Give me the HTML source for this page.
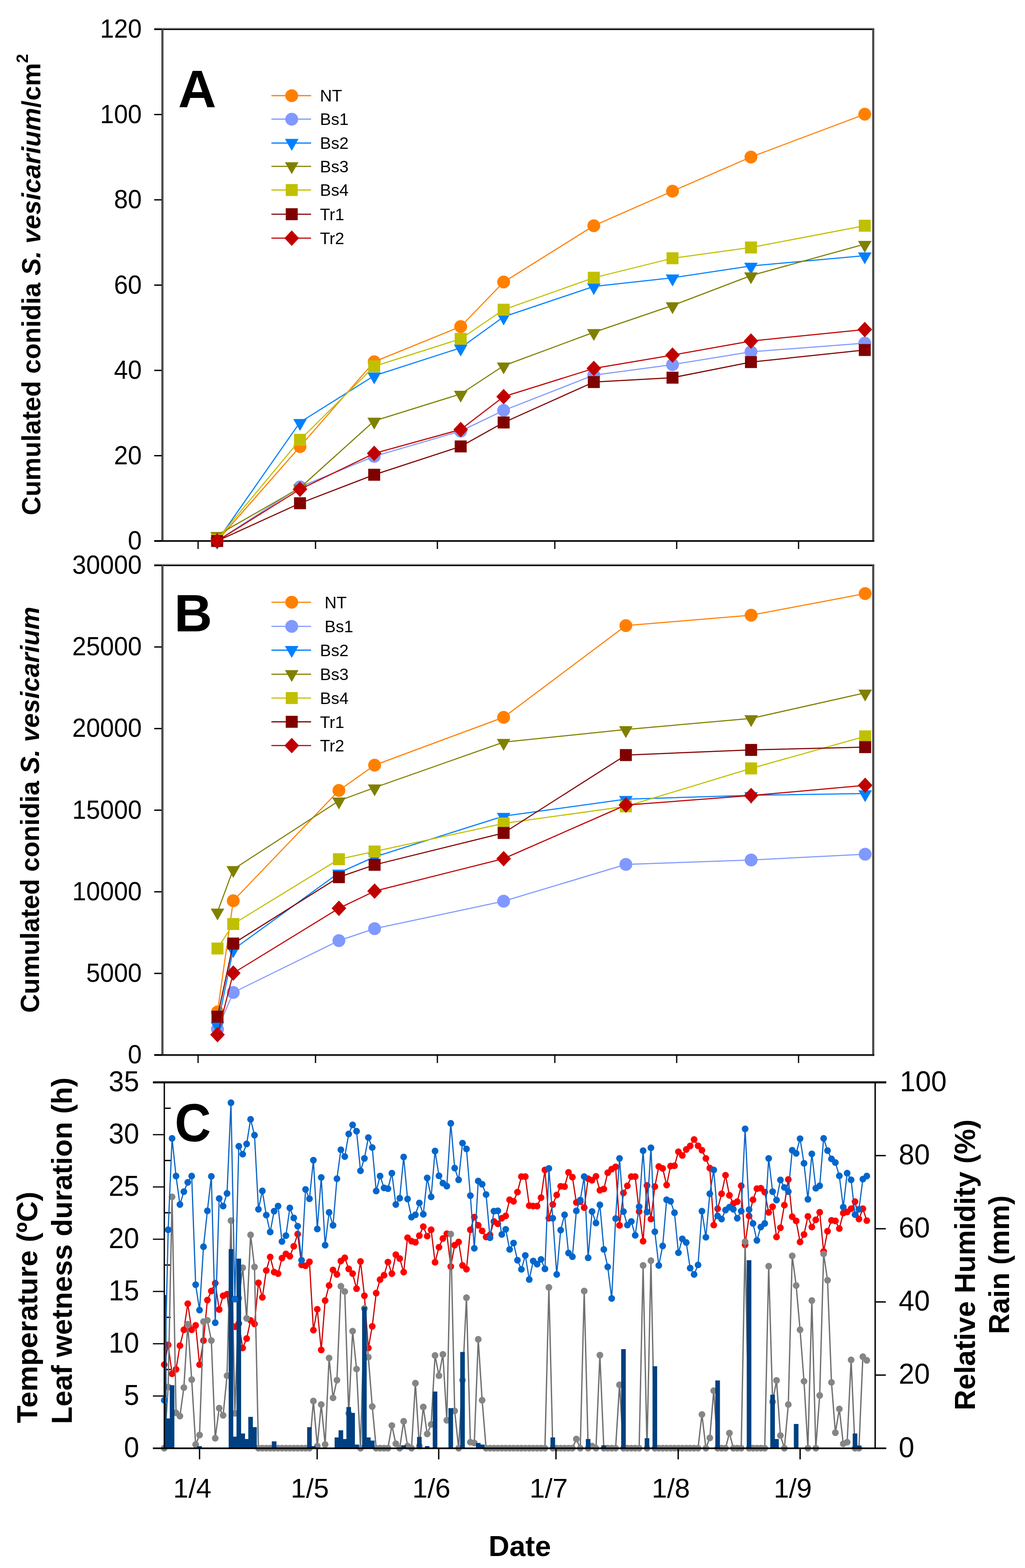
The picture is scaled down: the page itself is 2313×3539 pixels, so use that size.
<!DOCTYPE html>
<html lang="en"><head><meta charset="utf-8"><title>Figure</title>
<style>html,body{margin:0;padding:0;background:#fff}svg{display:block}</style></head>
<body>
<svg width="2313" height="3539" viewBox="0 0 2313 3539" font-family='"Liberation Sans", sans-serif' fill="#000">
<rect width="2313" height="3539" fill="#fff"/>
<g id="panelA">
<rect x="348" y="61.8" width="1625.0" height="3" fill="#d2d2d2"/>
<rect x="348" y="64.5" width="1625.0" height="3.2" fill="#000"/>
<rect x="364.0" y="66.0" width="5" height="1155.0" fill="#505050"/>
<rect x="1968.0" y="66.0" width="5" height="1157.0" fill="#505050"/>
<rect x="348" y="1219.0" width="1625.0" height="4" fill="#181818"/>
<rect x="348" y="64.5" width="17" height="3" fill="#000"/>
<text transform="translate(320,85.0) scale(0.965,1)" font-size="58.5" text-anchor="end">120</text>
<rect x="348" y="257.0" width="17" height="3" fill="#000"/>
<text transform="translate(320,277.5) scale(0.965,1)" font-size="58.5" text-anchor="end">100</text>
<rect x="348" y="449.5" width="17" height="3" fill="#000"/>
<text transform="translate(320,470.0) scale(0.965,1)" font-size="58.5" text-anchor="end">80</text>
<rect x="348" y="642.0" width="17" height="3" fill="#000"/>
<text transform="translate(320,662.5) scale(0.965,1)" font-size="58.5" text-anchor="end">60</text>
<rect x="348" y="834.5" width="17" height="3" fill="#000"/>
<text transform="translate(320,855.0) scale(0.965,1)" font-size="58.5" text-anchor="end">40</text>
<rect x="348" y="1027.0" width="17" height="3" fill="#000"/>
<text transform="translate(320,1047.5) scale(0.965,1)" font-size="58.5" text-anchor="end">20</text>
<rect x="348" y="1219.5" width="17" height="3" fill="#000"/>
<text transform="translate(320,1240.0) scale(0.965,1)" font-size="58.5" text-anchor="end">0</text>
<rect x="445.6" y="1221.0" width="2.8" height="18" fill="#000"/>
<rect x="710.6" y="1221.0" width="2.8" height="18" fill="#000"/>
<rect x="985.6" y="1221.0" width="2.8" height="18" fill="#000"/>
<rect x="1250.6" y="1221.0" width="2.8" height="18" fill="#000"/>
<rect x="1525.6" y="1221.0" width="2.8" height="18" fill="#000"/>
<rect x="1800.6" y="1221.0" width="2.8" height="18" fill="#000"/>
<polyline points="490.0,1221.0 677.0,1008.0 844.4,816.5 1039.6,737.0 1136.5,636.6 1340.0,509.4 1517.6,431.4 1694.6,354.4 1951.4,257.8" fill="none" stroke="#ff8000" stroke-width="2.5" stroke-linejoin="round"/>
<circle cx="490.0" cy="1221.0" r="14.5" fill="#ff8000"/>
<circle cx="677.0" cy="1008.0" r="14.5" fill="#ff8000"/>
<circle cx="844.4" cy="816.5" r="14.5" fill="#ff8000"/>
<circle cx="1039.6" cy="737.0" r="14.5" fill="#ff8000"/>
<circle cx="1136.5" cy="636.6" r="14.5" fill="#ff8000"/>
<circle cx="1340.0" cy="509.4" r="14.5" fill="#ff8000"/>
<circle cx="1517.6" cy="431.4" r="14.5" fill="#ff8000"/>
<circle cx="1694.6" cy="354.4" r="14.5" fill="#ff8000"/>
<circle cx="1951.4" cy="257.8" r="14.5" fill="#ff8000"/>
<polyline points="490.0,1221.0 677.0,1099.0 844.4,1030.0 1039.6,973.0 1136.5,926.3 1340.0,846.7 1517.6,822.9 1694.6,794.0 1951.4,774.4" fill="none" stroke="#8099ff" stroke-width="2.5" stroke-linejoin="round"/>
<circle cx="490.0" cy="1221.0" r="14.5" fill="#8099ff"/>
<circle cx="677.0" cy="1099.0" r="14.5" fill="#8099ff"/>
<circle cx="844.4" cy="1030.0" r="14.5" fill="#8099ff"/>
<circle cx="1039.6" cy="973.0" r="14.5" fill="#8099ff"/>
<circle cx="1136.5" cy="926.3" r="14.5" fill="#8099ff"/>
<circle cx="1340.0" cy="846.7" r="14.5" fill="#8099ff"/>
<circle cx="1517.6" cy="822.9" r="14.5" fill="#8099ff"/>
<circle cx="1694.6" cy="794.0" r="14.5" fill="#8099ff"/>
<circle cx="1951.4" cy="774.4" r="14.5" fill="#8099ff"/>
<polyline points="490.0,1221.0 677.0,953.0 844.4,848.0 1039.6,785.0 1136.5,715.0 1340.0,646.5 1517.6,626.9 1694.6,600.2 1951.4,577.1" fill="none" stroke="#0080ff" stroke-width="2.5" stroke-linejoin="round"/>
<polygon points="474.7,1213.7 505.3,1213.7 490.0,1240.5" fill="#0080ff"/>
<polygon points="661.7,945.7 692.3,945.7 677.0,972.5" fill="#0080ff"/>
<polygon points="829.1,840.7 859.7,840.7 844.4,867.5" fill="#0080ff"/>
<polygon points="1024.3,777.7 1054.9,777.7 1039.6,804.5" fill="#0080ff"/>
<polygon points="1121.2,707.7 1151.8,707.7 1136.5,734.5" fill="#0080ff"/>
<polygon points="1324.7,639.2 1355.3,639.2 1340.0,666.0" fill="#0080ff"/>
<polygon points="1502.3,619.6 1532.9,619.6 1517.6,646.4" fill="#0080ff"/>
<polygon points="1679.3,592.9 1709.9,592.9 1694.6,619.7" fill="#0080ff"/>
<polygon points="1936.1,569.8 1966.7,569.8 1951.4,596.6" fill="#0080ff"/>
<polyline points="490.0,1208.0 677.0,1101.0 844.4,950.0 1039.6,889.2 1136.5,825.5 1340.0,750.0 1517.6,689.5 1694.6,622.0 1951.4,551.0" fill="none" stroke="#808000" stroke-width="2.5" stroke-linejoin="round"/>
<polygon points="474.7,1200.7 505.3,1200.7 490.0,1227.5" fill="#808000"/>
<polygon points="661.7,1093.7 692.3,1093.7 677.0,1120.5" fill="#808000"/>
<polygon points="829.1,942.7 859.7,942.7 844.4,969.5" fill="#808000"/>
<polygon points="1024.3,881.9 1054.9,881.9 1039.6,908.7" fill="#808000"/>
<polygon points="1121.2,818.2 1151.8,818.2 1136.5,845.0" fill="#808000"/>
<polygon points="1324.7,742.7 1355.3,742.7 1340.0,769.5" fill="#808000"/>
<polygon points="1502.3,682.2 1532.9,682.2 1517.6,709.0" fill="#808000"/>
<polygon points="1679.3,614.7 1709.9,614.7 1694.6,641.5" fill="#808000"/>
<polygon points="1936.1,543.7 1966.7,543.7 1951.4,570.5" fill="#808000"/>
<polyline points="490.0,1218.0 677.0,992.7 844.4,826.8 1039.6,764.7 1136.5,699.0 1340.0,626.9 1517.6,582.9 1694.6,558.6 1951.4,509.4" fill="none" stroke="#c0c000" stroke-width="2.5" stroke-linejoin="round"/>
<rect x="476.5" y="1204.5" width="27" height="27" fill="#c0c000"/>
<rect x="663.5" y="979.2" width="27" height="27" fill="#c0c000"/>
<rect x="830.9" y="813.3" width="27" height="27" fill="#c0c000"/>
<rect x="1026.1" y="751.2" width="27" height="27" fill="#c0c000"/>
<rect x="1123.0" y="685.5" width="27" height="27" fill="#c0c000"/>
<rect x="1326.5" y="613.4" width="27" height="27" fill="#c0c000"/>
<rect x="1504.1" y="569.4" width="27" height="27" fill="#c0c000"/>
<rect x="1681.1" y="545.1" width="27" height="27" fill="#c0c000"/>
<rect x="1937.9" y="495.9" width="27" height="27" fill="#c0c000"/>
<polyline points="490.0,1221.0 677.0,1135.8 844.4,1071.5 1039.6,1007.6 1136.5,953.6 1340.0,862.3 1517.6,852.4 1694.6,817.2 1951.4,790.0" fill="none" stroke="#800000" stroke-width="2.5" stroke-linejoin="round"/>
<rect x="476.5" y="1207.5" width="27" height="27" fill="#800000"/>
<rect x="663.5" y="1122.3" width="27" height="27" fill="#800000"/>
<rect x="830.9" y="1058.0" width="27" height="27" fill="#800000"/>
<rect x="1026.1" y="994.1" width="27" height="27" fill="#800000"/>
<rect x="1123.0" y="940.1" width="27" height="27" fill="#800000"/>
<rect x="1326.5" y="848.8" width="27" height="27" fill="#800000"/>
<rect x="1504.1" y="838.9" width="27" height="27" fill="#800000"/>
<rect x="1681.1" y="803.7" width="27" height="27" fill="#800000"/>
<rect x="1937.9" y="776.5" width="27" height="27" fill="#800000"/>
<polyline points="490.0,1221.0 677.0,1104.3 844.4,1023.3 1039.6,969.4 1136.5,895.2 1340.0,831.6 1517.6,801.5 1694.6,769.7 1951.4,743.7" fill="none" stroke="#c00000" stroke-width="2.5" stroke-linejoin="round"/>
<polygon points="473.5,1221.0 490.0,1203.5 506.5,1221.0 490.0,1238.5" fill="#c00000"/>
<polygon points="660.5,1104.3 677.0,1086.8 693.5,1104.3 677.0,1121.8" fill="#c00000"/>
<polygon points="827.9,1023.3 844.4,1005.8 860.9,1023.3 844.4,1040.8" fill="#c00000"/>
<polygon points="1023.1,969.4 1039.6,951.9 1056.1,969.4 1039.6,986.9" fill="#c00000"/>
<polygon points="1120.0,895.2 1136.5,877.7 1153.0,895.2 1136.5,912.7" fill="#c00000"/>
<polygon points="1323.5,831.6 1340.0,814.1 1356.5,831.6 1340.0,849.1" fill="#c00000"/>
<polygon points="1501.1,801.5 1517.6,784.0 1534.1,801.5 1517.6,819.0" fill="#c00000"/>
<polygon points="1678.1,769.7 1694.6,752.2 1711.1,769.7 1694.6,787.2" fill="#c00000"/>
<polygon points="1934.9,743.7 1951.4,726.2 1967.9,743.7 1951.4,761.2" fill="#c00000"/>
<line x1="612.5" y1="215.9" x2="702" y2="215.9" stroke="#ff8000" stroke-width="2.6"/>
<circle cx="658.3" cy="215.9" r="14.5" fill="#ff8000"/>
<text x="722" y="229.4" font-size="37.5">NT</text>
<line x1="612.5" y1="268.9" x2="702" y2="268.9" stroke="#8099ff" stroke-width="2.6"/>
<circle cx="658.3" cy="268.9" r="14.5" fill="#8099ff"/>
<text x="722" y="282.4" font-size="37.5">Bs1</text>
<line x1="612.5" y1="322.9" x2="702" y2="322.9" stroke="#0080ff" stroke-width="2.6"/>
<polygon points="643.0,313.6 673.6,313.6 658.3,340.4" fill="#0080ff"/>
<text x="722" y="336.4" font-size="37.5">Bs2</text>
<line x1="612.5" y1="375.5" x2="702" y2="375.5" stroke="#808000" stroke-width="2.6"/>
<polygon points="643.0,366.2 673.6,366.2 658.3,393.0" fill="#808000"/>
<text x="722" y="389.0" font-size="37.5">Bs3</text>
<line x1="612.5" y1="428.9" x2="702" y2="428.9" stroke="#c0c000" stroke-width="2.6"/>
<rect x="644.8" y="415.4" width="27" height="27" fill="#c0c000"/>
<text x="722" y="442.4" font-size="37.5">Bs4</text>
<line x1="612.5" y1="483.5" x2="702" y2="483.5" stroke="#800000" stroke-width="2.6"/>
<rect x="644.8" y="470.0" width="27" height="27" fill="#800000"/>
<text x="722" y="497.0" font-size="37.5">Tr1</text>
<line x1="612.5" y1="537.5" x2="702" y2="537.5" stroke="#c00000" stroke-width="2.6"/>
<polygon points="641.8,537.5 658.3,520.0 674.8,537.5 658.3,555.0" fill="#c00000"/>
<text x="722" y="551.0" font-size="37.5">Tr2</text>
<text x="402" y="241.5" font-size="119" font-weight="bold">A</text>
<text transform="translate(91,1163) rotate(-90)" font-size="58.7" font-weight="bold">Cumulated conidia <tspan font-style="italic">S. vesicarium</tspan>/cm<tspan font-size="37" dy="-28">2</tspan></text>
</g>
<g id="panelB">
<rect x="348" y="1271.8" width="1625.0" height="3" fill="#d2d2d2"/>
<rect x="348" y="1274.5" width="1625.0" height="3.2" fill="#000"/>
<rect x="364.0" y="1276.0" width="5" height="1105.2" fill="#505050"/>
<rect x="1968.0" y="1276.0" width="5" height="1107.2" fill="#505050"/>
<rect x="348" y="2379.2" width="1625.0" height="4" fill="#181818"/>
<rect x="348" y="1274.5" width="17" height="3" fill="#000"/>
<text transform="translate(320,1295.0) scale(0.965,1)" font-size="58.5" text-anchor="end">30000</text>
<rect x="348" y="1458.7" width="17" height="3" fill="#000"/>
<text transform="translate(320,1479.2) scale(0.965,1)" font-size="58.5" text-anchor="end">25000</text>
<rect x="348" y="1642.9" width="17" height="3" fill="#000"/>
<text transform="translate(320,1663.4) scale(0.965,1)" font-size="58.5" text-anchor="end">20000</text>
<rect x="348" y="1827.1" width="17" height="3" fill="#000"/>
<text transform="translate(320,1847.6) scale(0.965,1)" font-size="58.5" text-anchor="end">15000</text>
<rect x="348" y="2011.3" width="17" height="3" fill="#000"/>
<text transform="translate(320,2031.8) scale(0.965,1)" font-size="58.5" text-anchor="end">10000</text>
<rect x="348" y="2195.5" width="17" height="3" fill="#000"/>
<text transform="translate(320,2216.0) scale(0.965,1)" font-size="58.5" text-anchor="end">5000</text>
<rect x="348" y="2379.7" width="17" height="3" fill="#000"/>
<text transform="translate(320,2400.2) scale(0.965,1)" font-size="58.5" text-anchor="end">0</text>
<rect x="445.6" y="2381.2" width="2.8" height="18" fill="#000"/>
<rect x="710.6" y="2381.2" width="2.8" height="18" fill="#000"/>
<rect x="985.6" y="2381.2" width="2.8" height="18" fill="#000"/>
<rect x="1250.6" y="2381.2" width="2.8" height="18" fill="#000"/>
<rect x="1525.6" y="2381.2" width="2.8" height="18" fill="#000"/>
<rect x="1800.6" y="2381.2" width="2.8" height="18" fill="#000"/>
<polyline points="490.8,2284.0 526.4,2033.0 764.8,1784.0 845.3,1727.0 1136.5,1619.0 1412.3,1412.0 1695.0,1388.4 1952.3,1339.8" fill="none" stroke="#ff8000" stroke-width="2.5" stroke-linejoin="round"/>
<circle cx="490.8" cy="2284.0" r="14.5" fill="#ff8000"/>
<circle cx="526.4" cy="2033.0" r="14.5" fill="#ff8000"/>
<circle cx="764.8" cy="1784.0" r="14.5" fill="#ff8000"/>
<circle cx="845.3" cy="1727.0" r="14.5" fill="#ff8000"/>
<circle cx="1136.5" cy="1619.0" r="14.5" fill="#ff8000"/>
<circle cx="1412.3" cy="1412.0" r="14.5" fill="#ff8000"/>
<circle cx="1695.0" cy="1388.4" r="14.5" fill="#ff8000"/>
<circle cx="1952.3" cy="1339.8" r="14.5" fill="#ff8000"/>
<polyline points="490.8,2323.0 526.4,2240.0 764.8,2123.0 845.3,2096.0 1136.5,2034.0 1412.3,1951.0 1695.0,1941.0 1952.3,1928.0" fill="none" stroke="#8099ff" stroke-width="2.5" stroke-linejoin="round"/>
<circle cx="490.8" cy="2323.0" r="14.5" fill="#8099ff"/>
<circle cx="526.4" cy="2240.0" r="14.5" fill="#8099ff"/>
<circle cx="764.8" cy="2123.0" r="14.5" fill="#8099ff"/>
<circle cx="845.3" cy="2096.0" r="14.5" fill="#8099ff"/>
<circle cx="1136.5" cy="2034.0" r="14.5" fill="#8099ff"/>
<circle cx="1412.3" cy="1951.0" r="14.5" fill="#8099ff"/>
<circle cx="1695.0" cy="1941.0" r="14.5" fill="#8099ff"/>
<circle cx="1952.3" cy="1928.0" r="14.5" fill="#8099ff"/>
<polyline points="490.8,2314.0 526.4,2143.0 764.8,1970.0 845.3,1934.0 1136.5,1842.0 1412.3,1803.7 1695.0,1795.0 1952.3,1791.0" fill="none" stroke="#0080ff" stroke-width="2.5" stroke-linejoin="round"/>
<polygon points="475.5,2306.7 506.1,2306.7 490.8,2333.5" fill="#0080ff"/>
<polygon points="511.1,2135.7 541.7,2135.7 526.4,2162.5" fill="#0080ff"/>
<polygon points="749.5,1962.7 780.1,1962.7 764.8,1989.5" fill="#0080ff"/>
<polygon points="830.0,1926.7 860.6,1926.7 845.3,1953.5" fill="#0080ff"/>
<polygon points="1121.2,1834.7 1151.8,1834.7 1136.5,1861.5" fill="#0080ff"/>
<polygon points="1397.0,1796.4 1427.6,1796.4 1412.3,1823.2" fill="#0080ff"/>
<polygon points="1679.7,1787.7 1710.3,1787.7 1695.0,1814.5" fill="#0080ff"/>
<polygon points="1937.0,1783.7 1967.6,1783.7 1952.3,1810.5" fill="#0080ff"/>
<polyline points="490.8,2058.0 526.4,1962.0 764.8,1807.4 845.3,1777.7 1136.5,1675.0 1412.3,1646.4 1695.0,1621.5 1952.3,1563.7" fill="none" stroke="#808000" stroke-width="2.5" stroke-linejoin="round"/>
<polygon points="475.5,2050.7 506.1,2050.7 490.8,2077.5" fill="#808000"/>
<polygon points="511.1,1954.7 541.7,1954.7 526.4,1981.5" fill="#808000"/>
<polygon points="749.5,1800.1 780.1,1800.1 764.8,1826.9" fill="#808000"/>
<polygon points="830.0,1770.4 860.6,1770.4 845.3,1797.2" fill="#808000"/>
<polygon points="1121.2,1667.7 1151.8,1667.7 1136.5,1694.5" fill="#808000"/>
<polygon points="1397.0,1639.1 1427.6,1639.1 1412.3,1665.9" fill="#808000"/>
<polygon points="1679.7,1614.2 1710.3,1614.2 1695.0,1641.0" fill="#808000"/>
<polygon points="1937.0,1556.4 1967.6,1556.4 1952.3,1583.2" fill="#808000"/>
<polyline points="490.8,2140.8 526.4,2085.5 764.8,1939.3 845.3,1921.8 1136.5,1858.5 1412.3,1820.0 1695.0,1734.3 1952.3,1662.0" fill="none" stroke="#c0c000" stroke-width="2.5" stroke-linejoin="round"/>
<rect x="477.3" y="2127.3" width="27" height="27" fill="#c0c000"/>
<rect x="512.9" y="2072.0" width="27" height="27" fill="#c0c000"/>
<rect x="751.3" y="1925.8" width="27" height="27" fill="#c0c000"/>
<rect x="831.8" y="1908.3" width="27" height="27" fill="#c0c000"/>
<rect x="1123.0" y="1845.0" width="27" height="27" fill="#c0c000"/>
<rect x="1398.8" y="1806.5" width="27" height="27" fill="#c0c000"/>
<rect x="1681.5" y="1720.8" width="27" height="27" fill="#c0c000"/>
<rect x="1938.8" y="1648.5" width="27" height="27" fill="#c0c000"/>
<polyline points="490.8,2294.7 526.4,2129.6 764.8,1979.8 845.3,1951.9 1136.5,1880.0 1412.3,1704.2 1695.0,1692.6 1952.3,1686.3" fill="none" stroke="#800000" stroke-width="2.5" stroke-linejoin="round"/>
<rect x="477.3" y="2281.2" width="27" height="27" fill="#800000"/>
<rect x="512.9" y="2116.1" width="27" height="27" fill="#800000"/>
<rect x="751.3" y="1966.3" width="27" height="27" fill="#800000"/>
<rect x="831.8" y="1938.4" width="27" height="27" fill="#800000"/>
<rect x="1123.0" y="1866.5" width="27" height="27" fill="#800000"/>
<rect x="1398.8" y="1690.7" width="27" height="27" fill="#800000"/>
<rect x="1681.5" y="1679.1" width="27" height="27" fill="#800000"/>
<rect x="1938.8" y="1672.8" width="27" height="27" fill="#800000"/>
<polyline points="490.8,2335.2 526.4,2196.2 764.8,2050.0 845.3,2011.3 1136.5,1938.0 1412.3,1817.0 1695.0,1795.6 1952.3,1772.5" fill="none" stroke="#c00000" stroke-width="2.5" stroke-linejoin="round"/>
<polygon points="474.3,2335.2 490.8,2317.7 507.3,2335.2 490.8,2352.7" fill="#c00000"/>
<polygon points="509.9,2196.2 526.4,2178.7 542.9,2196.2 526.4,2213.7" fill="#c00000"/>
<polygon points="748.3,2050.0 764.8,2032.5 781.3,2050.0 764.8,2067.5" fill="#c00000"/>
<polygon points="828.8,2011.3 845.3,1993.8 861.8,2011.3 845.3,2028.8" fill="#c00000"/>
<polygon points="1120.0,1938.0 1136.5,1920.5 1153.0,1938.0 1136.5,1955.5" fill="#c00000"/>
<polygon points="1395.8,1817.0 1412.3,1799.5 1428.8,1817.0 1412.3,1834.5" fill="#c00000"/>
<polygon points="1678.5,1795.6 1695.0,1778.1 1711.5,1795.6 1695.0,1813.1" fill="#c00000"/>
<polygon points="1935.8,1772.5 1952.3,1755.0 1968.8,1772.5 1952.3,1790.0" fill="#c00000"/>
<line x1="612.5" y1="1359.3" x2="702" y2="1359.3" stroke="#ff8000" stroke-width="2.6"/>
<circle cx="658.3" cy="1359.3" r="14.5" fill="#ff8000"/>
<text x="732.5" y="1372.8" font-size="37.5">NT</text>
<line x1="612.5" y1="1413.7" x2="702" y2="1413.7" stroke="#8099ff" stroke-width="2.6"/>
<circle cx="658.3" cy="1413.7" r="14.5" fill="#8099ff"/>
<text x="732.5" y="1427.2" font-size="37.5">Bs1</text>
<line x1="612.5" y1="1467.4" x2="702" y2="1467.4" stroke="#0080ff" stroke-width="2.6"/>
<polygon points="643.0,1458.1 673.6,1458.1 658.3,1484.9" fill="#0080ff"/>
<text x="722" y="1480.9" font-size="37.5">Bs2</text>
<line x1="612.5" y1="1521.8" x2="702" y2="1521.8" stroke="#808000" stroke-width="2.6"/>
<polygon points="643.0,1512.5 673.6,1512.5 658.3,1539.3" fill="#808000"/>
<text x="722" y="1535.3" font-size="37.5">Bs3</text>
<line x1="612.5" y1="1575.5" x2="702" y2="1575.5" stroke="#c0c000" stroke-width="2.6"/>
<rect x="644.8" y="1562.0" width="27" height="27" fill="#c0c000"/>
<text x="722" y="1589.0" font-size="37.5">Bs4</text>
<line x1="612.5" y1="1629.1" x2="702" y2="1629.1" stroke="#800000" stroke-width="2.6"/>
<rect x="644.8" y="1615.6" width="27" height="27" fill="#800000"/>
<text x="722" y="1642.6" font-size="37.5">Tr1</text>
<line x1="612.5" y1="1682.8" x2="702" y2="1682.8" stroke="#c00000" stroke-width="2.6"/>
<polygon points="641.8,1682.8 658.3,1665.3 674.8,1682.8 658.3,1700.3" fill="#c00000"/>
<text x="722" y="1696.3" font-size="37.5">Tr2</text>
<text x="393" y="1425" font-size="119" font-weight="bold">B</text>
<text transform="translate(88,2286) rotate(-90)" font-size="58.5" font-weight="bold">Cumulated conidia <tspan font-style="italic">S. vesicarium</tspan></text>
</g>
<g id="panelC">
<clipPath id="clipC"><rect x="370.8" y="2443.0" width="1604.1000000000001" height="837.8000000000002"/></clipPath>
<rect x="370.8" y="2499.8" width="14.5" height="3.0" fill="#000"/>
<rect x="370.8" y="2617.8" width="14.5" height="3.0" fill="#000"/>
<rect x="370.8" y="2735.7" width="14.5" height="3.0" fill="#000"/>
<rect x="370.8" y="2853.7" width="14.5" height="3.0" fill="#000"/>
<rect x="370.8" y="2971.7" width="14.5" height="3.0" fill="#000"/>
<rect x="370.8" y="3089.6" width="14.5" height="3.0" fill="#000"/>
<rect x="370.8" y="3207.6" width="14.5" height="3.0" fill="#000"/>
<polyline points="370.6,3080.0 379.5,3035.4 388.3,3100.7 397.2,3090.7 406.0,3037.1 414.9,3001.4 423.7,2942.5 432.6,3001.4 441.5,2991.4 450.3,3080.0 459.2,3025.7 468.0,2934.3 476.9,2913.9 485.7,2896.1 494.6,2955.7 503.5,2924.6 512.3,2921.1 521.2,2996.1 530.0,2994.3 538.9,2987.1 547.7,3042.5 556.6,3021.1 565.5,2980.0 574.3,2988.2 583.2,2895.4 592.0,2928.2 600.9,2867.5 609.7,2837.1 618.6,2871.1 627.5,2874.6 636.3,2839.6 645.2,2830.0 654.0,2835.4 662.9,2812.9 671.7,2785.4 680.6,2855.0 689.5,2856.8 698.3,2847.9 707.2,3002.1 716.0,2955.0 724.9,3046.8 733.7,2935.4 742.6,2901.4 751.5,2866.4 760.3,2876.4 769.2,2846.1 778.0,2838.9 786.9,2863.9 795.7,2874.6 804.6,2908.6 813.5,2847.1 822.3,2924.6 831.2,3042.5 840.0,2993.6 848.9,2918.6 857.7,2888.2 866.6,2878.2 875.4,2848.6 884.3,2874.6 893.2,2831.8 902.0,2840.7 910.9,2871.1 919.7,2793.6 928.6,2801.4 937.4,2803.9 946.3,2788.9 955.2,2768.6 964.0,2790.0 972.9,2775.7 981.7,2848.9 990.6,2815.0 999.4,2795.4 1008.3,2784.6 1017.2,2858.6 1026.0,2810.4 1034.9,2803.2 1043.7,2856.1 1052.6,2864.6 1061.4,2775.7 1070.3,2747.1 1079.2,2765.7 1088.0,2778.2 1096.9,2791.8 1105.7,2787.1 1114.6,2756.8 1123.4,2762.1 1132.3,2749.6 1141.2,2744.3 1150.0,2707.9 1158.9,2711.4 1167.7,2690.7 1176.6,2655.7 1185.4,2655.7 1194.3,2721.1 1203.2,2722.1 1212.0,2722.1 1220.9,2703.2 1229.7,2640.7 1238.6,2749.6 1247.4,2718.6 1256.3,2697.1 1265.2,2677.5 1274.0,2678.2 1282.9,2646.1 1291.7,2656.8 1300.6,2713.9 1309.4,2712.1 1318.3,2725.7 1327.2,2660.4 1336.0,2663.9 1344.9,2655.0 1353.7,2686.4 1362.6,2683.6 1371.4,2646.8 1380.3,2638.9 1389.2,2633.6 1398.0,2765.7 1406.9,2692.5 1415.7,2676.4 1424.6,2655.7 1433.4,2655.7 1442.3,2734.3 1451.2,2801.4 1460.0,2675.7 1468.9,2751.4 1477.7,2678.2 1486.6,2632.9 1495.4,2637.1 1504.3,2674.6 1513.2,2631.8 1522.0,2631.1 1530.9,2599.6 1539.7,2607.9 1548.6,2594.3 1557.4,2586.4 1566.3,2571.8 1575.2,2586.1 1584.0,2596.1 1592.9,2614.6 1601.7,2636.4 1610.6,2765.0 1619.4,2728.2 1628.3,2694.3 1637.2,2652.5 1646.0,2697.9 1654.9,2716.4 1663.7,2712.1 1672.6,2676.4 1681.4,2809.6 1690.3,2744.3 1699.2,2707.9 1708.0,2682.9 1716.9,2681.8 1725.7,2690.7 1734.6,2736.4 1743.4,2723.6 1752.3,2791.8 1761.1,2771.1 1770.0,2720.0 1778.9,2662.1 1787.7,2746.1 1796.6,2755.7 1805.4,2803.2 1814.3,2786.4 1823.1,2745.4 1832.0,2769.3 1840.9,2753.2 1849.7,2736.1 1858.6,2824.6 1867.4,2778.9 1876.3,2754.3 1885.1,2755.7 1894.0,2772.9 1902.9,2737.9 1911.7,2735.4 1920.6,2728.2 1929.4,2712.1 1938.3,2751.4 1947.1,2728.2 1956.0,2755.0" fill="none" stroke="#cc0000" stroke-width="2.7" stroke-linejoin="round"/>
<g fill="#ff0000"><circle cx="370.6" cy="3080.0" r="7.6"/><circle cx="379.5" cy="3035.4" r="7.6"/><circle cx="388.3" cy="3100.7" r="7.6"/><circle cx="397.2" cy="3090.7" r="7.6"/><circle cx="406.0" cy="3037.1" r="7.6"/><circle cx="414.9" cy="3001.4" r="7.6"/><circle cx="423.7" cy="2942.5" r="7.6"/><circle cx="432.6" cy="3001.4" r="7.6"/><circle cx="441.5" cy="2991.4" r="7.6"/><circle cx="450.3" cy="3080.0" r="7.6"/><circle cx="459.2" cy="3025.7" r="7.6"/><circle cx="468.0" cy="2934.3" r="7.6"/><circle cx="476.9" cy="2913.9" r="7.6"/><circle cx="485.7" cy="2896.1" r="7.6"/><circle cx="494.6" cy="2955.7" r="7.6"/><circle cx="503.5" cy="2924.6" r="7.6"/><circle cx="512.3" cy="2921.1" r="7.6"/><circle cx="521.2" cy="2996.1" r="7.6"/><circle cx="530.0" cy="2994.3" r="7.6"/><circle cx="538.9" cy="2987.1" r="7.6"/><circle cx="547.7" cy="3042.5" r="7.6"/><circle cx="556.6" cy="3021.1" r="7.6"/><circle cx="565.5" cy="2980.0" r="7.6"/><circle cx="574.3" cy="2988.2" r="7.6"/><circle cx="583.2" cy="2895.4" r="7.6"/><circle cx="592.0" cy="2928.2" r="7.6"/><circle cx="600.9" cy="2867.5" r="7.6"/><circle cx="609.7" cy="2837.1" r="7.6"/><circle cx="618.6" cy="2871.1" r="7.6"/><circle cx="627.5" cy="2874.6" r="7.6"/><circle cx="636.3" cy="2839.6" r="7.6"/><circle cx="645.2" cy="2830.0" r="7.6"/><circle cx="654.0" cy="2835.4" r="7.6"/><circle cx="662.9" cy="2812.9" r="7.6"/><circle cx="671.7" cy="2785.4" r="7.6"/><circle cx="680.6" cy="2855.0" r="7.6"/><circle cx="689.5" cy="2856.8" r="7.6"/><circle cx="698.3" cy="2847.9" r="7.6"/><circle cx="707.2" cy="3002.1" r="7.6"/><circle cx="716.0" cy="2955.0" r="7.6"/><circle cx="724.9" cy="3046.8" r="7.6"/><circle cx="733.7" cy="2935.4" r="7.6"/><circle cx="742.6" cy="2901.4" r="7.6"/><circle cx="751.5" cy="2866.4" r="7.6"/><circle cx="760.3" cy="2876.4" r="7.6"/><circle cx="769.2" cy="2846.1" r="7.6"/><circle cx="778.0" cy="2838.9" r="7.6"/><circle cx="786.9" cy="2863.9" r="7.6"/><circle cx="795.7" cy="2874.6" r="7.6"/><circle cx="804.6" cy="2908.6" r="7.6"/><circle cx="813.5" cy="2847.1" r="7.6"/><circle cx="822.3" cy="2924.6" r="7.6"/><circle cx="831.2" cy="3042.5" r="7.6"/><circle cx="840.0" cy="2993.6" r="7.6"/><circle cx="848.9" cy="2918.6" r="7.6"/><circle cx="857.7" cy="2888.2" r="7.6"/><circle cx="866.6" cy="2878.2" r="7.6"/><circle cx="875.4" cy="2848.6" r="7.6"/><circle cx="884.3" cy="2874.6" r="7.6"/><circle cx="893.2" cy="2831.8" r="7.6"/><circle cx="902.0" cy="2840.7" r="7.6"/><circle cx="910.9" cy="2871.1" r="7.6"/><circle cx="919.7" cy="2793.6" r="7.6"/><circle cx="928.6" cy="2801.4" r="7.6"/><circle cx="937.4" cy="2803.9" r="7.6"/><circle cx="946.3" cy="2788.9" r="7.6"/><circle cx="955.2" cy="2768.6" r="7.6"/><circle cx="964.0" cy="2790.0" r="7.6"/><circle cx="972.9" cy="2775.7" r="7.6"/><circle cx="981.7" cy="2848.9" r="7.6"/><circle cx="990.6" cy="2815.0" r="7.6"/><circle cx="999.4" cy="2795.4" r="7.6"/><circle cx="1008.3" cy="2784.6" r="7.6"/><circle cx="1017.2" cy="2858.6" r="7.6"/><circle cx="1026.0" cy="2810.4" r="7.6"/><circle cx="1034.9" cy="2803.2" r="7.6"/><circle cx="1043.7" cy="2856.1" r="7.6"/><circle cx="1052.6" cy="2864.6" r="7.6"/><circle cx="1061.4" cy="2775.7" r="7.6"/><circle cx="1070.3" cy="2747.1" r="7.6"/><circle cx="1079.2" cy="2765.7" r="7.6"/><circle cx="1088.0" cy="2778.2" r="7.6"/><circle cx="1096.9" cy="2791.8" r="7.6"/><circle cx="1105.7" cy="2787.1" r="7.6"/><circle cx="1114.6" cy="2756.8" r="7.6"/><circle cx="1123.4" cy="2762.1" r="7.6"/><circle cx="1132.3" cy="2749.6" r="7.6"/><circle cx="1141.2" cy="2744.3" r="7.6"/><circle cx="1150.0" cy="2707.9" r="7.6"/><circle cx="1158.9" cy="2711.4" r="7.6"/><circle cx="1167.7" cy="2690.7" r="7.6"/><circle cx="1176.6" cy="2655.7" r="7.6"/><circle cx="1185.4" cy="2655.7" r="7.6"/><circle cx="1194.3" cy="2721.1" r="7.6"/><circle cx="1203.2" cy="2722.1" r="7.6"/><circle cx="1212.0" cy="2722.1" r="7.6"/><circle cx="1220.9" cy="2703.2" r="7.6"/><circle cx="1229.7" cy="2640.7" r="7.6"/><circle cx="1238.6" cy="2749.6" r="7.6"/><circle cx="1247.4" cy="2718.6" r="7.6"/><circle cx="1256.3" cy="2697.1" r="7.6"/><circle cx="1265.2" cy="2677.5" r="7.6"/><circle cx="1274.0" cy="2678.2" r="7.6"/><circle cx="1282.9" cy="2646.1" r="7.6"/><circle cx="1291.7" cy="2656.8" r="7.6"/><circle cx="1300.6" cy="2713.9" r="7.6"/><circle cx="1309.4" cy="2712.1" r="7.6"/><circle cx="1318.3" cy="2725.7" r="7.6"/><circle cx="1327.2" cy="2660.4" r="7.6"/><circle cx="1336.0" cy="2663.9" r="7.6"/><circle cx="1344.9" cy="2655.0" r="7.6"/><circle cx="1353.7" cy="2686.4" r="7.6"/><circle cx="1362.6" cy="2683.6" r="7.6"/><circle cx="1371.4" cy="2646.8" r="7.6"/><circle cx="1380.3" cy="2638.9" r="7.6"/><circle cx="1389.2" cy="2633.6" r="7.6"/><circle cx="1398.0" cy="2765.7" r="7.6"/><circle cx="1406.9" cy="2692.5" r="7.6"/><circle cx="1415.7" cy="2676.4" r="7.6"/><circle cx="1424.6" cy="2655.7" r="7.6"/><circle cx="1433.4" cy="2655.7" r="7.6"/><circle cx="1442.3" cy="2734.3" r="7.6"/><circle cx="1451.2" cy="2801.4" r="7.6"/><circle cx="1460.0" cy="2675.7" r="7.6"/><circle cx="1468.9" cy="2751.4" r="7.6"/><circle cx="1477.7" cy="2678.2" r="7.6"/><circle cx="1486.6" cy="2632.9" r="7.6"/><circle cx="1495.4" cy="2637.1" r="7.6"/><circle cx="1504.3" cy="2674.6" r="7.6"/><circle cx="1513.2" cy="2631.8" r="7.6"/><circle cx="1522.0" cy="2631.1" r="7.6"/><circle cx="1530.9" cy="2599.6" r="7.6"/><circle cx="1539.7" cy="2607.9" r="7.6"/><circle cx="1548.6" cy="2594.3" r="7.6"/><circle cx="1557.4" cy="2586.4" r="7.6"/><circle cx="1566.3" cy="2571.8" r="7.6"/><circle cx="1575.2" cy="2586.1" r="7.6"/><circle cx="1584.0" cy="2596.1" r="7.6"/><circle cx="1592.9" cy="2614.6" r="7.6"/><circle cx="1601.7" cy="2636.4" r="7.6"/><circle cx="1610.6" cy="2765.0" r="7.6"/><circle cx="1619.4" cy="2728.2" r="7.6"/><circle cx="1628.3" cy="2694.3" r="7.6"/><circle cx="1637.2" cy="2652.5" r="7.6"/><circle cx="1646.0" cy="2697.9" r="7.6"/><circle cx="1654.9" cy="2716.4" r="7.6"/><circle cx="1663.7" cy="2712.1" r="7.6"/><circle cx="1672.6" cy="2676.4" r="7.6"/><circle cx="1681.4" cy="2809.6" r="7.6"/><circle cx="1690.3" cy="2744.3" r="7.6"/><circle cx="1699.2" cy="2707.9" r="7.6"/><circle cx="1708.0" cy="2682.9" r="7.6"/><circle cx="1716.9" cy="2681.8" r="7.6"/><circle cx="1725.7" cy="2690.7" r="7.6"/><circle cx="1734.6" cy="2736.4" r="7.6"/><circle cx="1743.4" cy="2723.6" r="7.6"/><circle cx="1752.3" cy="2791.8" r="7.6"/><circle cx="1761.1" cy="2771.1" r="7.6"/><circle cx="1770.0" cy="2720.0" r="7.6"/><circle cx="1778.9" cy="2662.1" r="7.6"/><circle cx="1787.7" cy="2746.1" r="7.6"/><circle cx="1796.6" cy="2755.7" r="7.6"/><circle cx="1805.4" cy="2803.2" r="7.6"/><circle cx="1814.3" cy="2786.4" r="7.6"/><circle cx="1823.1" cy="2745.4" r="7.6"/><circle cx="1832.0" cy="2769.3" r="7.6"/><circle cx="1840.9" cy="2753.2" r="7.6"/><circle cx="1849.7" cy="2736.1" r="7.6"/><circle cx="1858.6" cy="2824.6" r="7.6"/><circle cx="1867.4" cy="2778.9" r="7.6"/><circle cx="1876.3" cy="2754.3" r="7.6"/><circle cx="1885.1" cy="2755.7" r="7.6"/><circle cx="1894.0" cy="2772.9" r="7.6"/><circle cx="1902.9" cy="2737.9" r="7.6"/><circle cx="1911.7" cy="2735.4" r="7.6"/><circle cx="1920.6" cy="2728.2" r="7.6"/><circle cx="1929.4" cy="2712.1" r="7.6"/><circle cx="1938.3" cy="2751.4" r="7.6"/><circle cx="1947.1" cy="2728.2" r="7.6"/><circle cx="1956.0" cy="2755.0" r="7.6"/></g>
<polyline points="370.6,3268.6 379.5,3130.7 388.3,2701.4 397.2,3188.9 406.0,3196.1 414.9,3131.8 423.7,2988.9 432.6,3113.9 441.5,3260.4 450.3,3238.9 459.2,2982.9 468.0,2980.0 476.9,3025.7 485.7,3246.1 494.6,3178.2 503.5,3194.3 512.3,3105.0 521.2,2755.0 530.0,3190.0 538.9,2930.0 547.7,2861.4 556.6,2975.7 565.5,2787.1 574.3,2859.6 583.2,3268.6 592.0,3268.6 600.9,3268.6 609.7,3268.6 618.6,3268.6 627.5,3268.6 636.3,3268.6 645.2,3268.6 654.0,3268.6 662.9,3268.6 671.7,3268.6 680.6,3268.6 689.5,3268.6 698.3,3268.6 707.2,3162.1 716.0,3263.9 724.9,3170.0 733.7,3260.4 742.6,3065.0 751.5,3155.0 760.3,3115.0 769.2,2903.2 778.0,2915.0 786.9,3190.0 795.7,3004.3 804.6,3090.0 813.5,3268.6 822.3,2953.2 831.2,3063.2 840.0,3174.6 848.9,3268.6 857.7,3268.6 866.6,3268.6 875.4,3268.6 884.3,3217.5 893.2,3258.6 902.0,3268.6 910.9,3207.9 919.7,3263.9 928.6,3268.6 937.4,3121.8 946.3,3263.9 955.2,3175.7 964.0,3236.4 972.9,3215.0 981.7,3059.3 990.6,3105.0 999.4,3056.8 1008.3,3205.7 1017.2,2785.4 1026.0,3184.3 1034.9,3268.6 1043.7,3115.0 1052.6,2928.9 1061.4,3255.0 1070.3,3256.8 1079.2,3022.9 1088.0,3160.4 1096.9,3268.6 1105.7,3268.6 1114.6,3268.6 1123.4,3268.6 1132.3,3268.6 1141.2,3268.6 1150.0,3268.6 1158.9,3268.6 1167.7,3268.6 1176.6,3268.6 1185.4,3268.6 1194.3,3268.6 1203.2,3268.6 1212.0,3268.6 1220.9,3268.6 1229.7,3268.6 1238.6,2905.7 1247.4,3268.6 1256.3,3268.6 1265.2,3268.6 1274.0,3268.6 1282.9,3268.6 1291.7,3268.6 1300.6,3247.9 1309.4,3268.6 1318.3,2913.9 1327.2,3268.6 1336.0,3263.9 1344.9,3268.6 1353.7,3058.6 1362.6,3268.6 1371.4,3268.6 1380.3,3268.6 1389.2,3268.6 1398.0,3125.7 1406.9,3268.6 1415.7,3268.6 1424.6,3268.6 1433.4,3268.6 1442.3,3268.6 1451.2,2856.1 1460.0,3268.6 1468.9,2845.4 1477.7,3268.6 1486.6,3268.6 1495.4,3268.6 1504.3,3268.6 1513.2,3268.6 1522.0,3268.6 1530.9,3268.6 1539.7,3268.6 1548.6,3268.6 1557.4,3268.6 1566.3,3268.6 1575.2,3268.6 1584.0,3192.5 1592.9,3268.6 1601.7,3245.4 1610.6,3138.9 1619.4,3268.6 1628.3,3268.6 1637.2,3268.6 1646.0,3234.6 1654.9,3268.6 1663.7,3268.6 1672.6,3268.6 1681.4,2802.5 1690.3,3268.6 1699.2,3268.6 1708.0,3268.6 1716.9,3268.6 1725.7,3268.6 1734.6,2857.9 1743.4,3163.9 1752.3,3115.7 1761.1,3240.0 1770.0,3268.6 1778.9,3170.0 1787.7,2834.6 1796.6,2901.4 1805.4,3001.4 1814.3,3117.5 1823.1,3268.6 1832.0,2935.4 1840.9,3268.6 1849.7,3149.6 1858.6,2830.0 1867.4,2889.6 1876.3,3120.0 1885.1,3233.6 1894.0,3180.0 1902.9,3258.6 1911.7,3255.0 1920.6,3069.3 1929.4,3268.6 1938.3,3268.6 1947.1,3062.1 1956.0,3070.4" fill="none" stroke="#707070" stroke-width="3.0" stroke-linejoin="round"/>
<g fill="#858585"><circle cx="370.6" cy="3268.6" r="7.6"/><circle cx="379.5" cy="3130.7" r="7.6"/><circle cx="388.3" cy="2701.4" r="7.6"/><circle cx="397.2" cy="3188.9" r="7.6"/><circle cx="406.0" cy="3196.1" r="7.6"/><circle cx="414.9" cy="3131.8" r="7.6"/><circle cx="423.7" cy="2988.9" r="7.6"/><circle cx="432.6" cy="3113.9" r="7.6"/><circle cx="441.5" cy="3260.4" r="7.6"/><circle cx="450.3" cy="3238.9" r="7.6"/><circle cx="459.2" cy="2982.9" r="7.6"/><circle cx="468.0" cy="2980.0" r="7.6"/><circle cx="476.9" cy="3025.7" r="7.6"/><circle cx="485.7" cy="3246.1" r="7.6"/><circle cx="494.6" cy="3178.2" r="7.6"/><circle cx="503.5" cy="3194.3" r="7.6"/><circle cx="512.3" cy="3105.0" r="7.6"/><circle cx="521.2" cy="2755.0" r="7.6"/><circle cx="530.0" cy="3190.0" r="7.6"/><circle cx="538.9" cy="2930.0" r="7.6"/><circle cx="547.7" cy="2861.4" r="7.6"/><circle cx="556.6" cy="2975.7" r="7.6"/><circle cx="565.5" cy="2787.1" r="7.6"/><circle cx="574.3" cy="2859.6" r="7.6"/><circle cx="583.2" cy="3268.6" r="7.6"/><circle cx="592.0" cy="3268.6" r="7.6"/><circle cx="600.9" cy="3268.6" r="7.6"/><circle cx="609.7" cy="3268.6" r="7.6"/><circle cx="618.6" cy="3268.6" r="7.6"/><circle cx="627.5" cy="3268.6" r="7.6"/><circle cx="636.3" cy="3268.6" r="7.6"/><circle cx="645.2" cy="3268.6" r="7.6"/><circle cx="654.0" cy="3268.6" r="7.6"/><circle cx="662.9" cy="3268.6" r="7.6"/><circle cx="671.7" cy="3268.6" r="7.6"/><circle cx="680.6" cy="3268.6" r="7.6"/><circle cx="689.5" cy="3268.6" r="7.6"/><circle cx="698.3" cy="3268.6" r="7.6"/><circle cx="707.2" cy="3162.1" r="7.6"/><circle cx="716.0" cy="3263.9" r="7.6"/><circle cx="724.9" cy="3170.0" r="7.6"/><circle cx="733.7" cy="3260.4" r="7.6"/><circle cx="742.6" cy="3065.0" r="7.6"/><circle cx="751.5" cy="3155.0" r="7.6"/><circle cx="760.3" cy="3115.0" r="7.6"/><circle cx="769.2" cy="2903.2" r="7.6"/><circle cx="778.0" cy="2915.0" r="7.6"/><circle cx="786.9" cy="3190.0" r="7.6"/><circle cx="795.7" cy="3004.3" r="7.6"/><circle cx="804.6" cy="3090.0" r="7.6"/><circle cx="813.5" cy="3268.6" r="7.6"/><circle cx="822.3" cy="2953.2" r="7.6"/><circle cx="831.2" cy="3063.2" r="7.6"/><circle cx="840.0" cy="3174.6" r="7.6"/><circle cx="848.9" cy="3268.6" r="7.6"/><circle cx="857.7" cy="3268.6" r="7.6"/><circle cx="866.6" cy="3268.6" r="7.6"/><circle cx="875.4" cy="3268.6" r="7.6"/><circle cx="884.3" cy="3217.5" r="7.6"/><circle cx="893.2" cy="3258.6" r="7.6"/><circle cx="902.0" cy="3268.6" r="7.6"/><circle cx="910.9" cy="3207.9" r="7.6"/><circle cx="919.7" cy="3263.9" r="7.6"/><circle cx="928.6" cy="3268.6" r="7.6"/><circle cx="937.4" cy="3121.8" r="7.6"/><circle cx="946.3" cy="3263.9" r="7.6"/><circle cx="955.2" cy="3175.7" r="7.6"/><circle cx="964.0" cy="3236.4" r="7.6"/><circle cx="972.9" cy="3215.0" r="7.6"/><circle cx="981.7" cy="3059.3" r="7.6"/><circle cx="990.6" cy="3105.0" r="7.6"/><circle cx="999.4" cy="3056.8" r="7.6"/><circle cx="1008.3" cy="3205.7" r="7.6"/><circle cx="1017.2" cy="2785.4" r="7.6"/><circle cx="1026.0" cy="3184.3" r="7.6"/><circle cx="1034.9" cy="3268.6" r="7.6"/><circle cx="1043.7" cy="3115.0" r="7.6"/><circle cx="1052.6" cy="2928.9" r="7.6"/><circle cx="1061.4" cy="3255.0" r="7.6"/><circle cx="1070.3" cy="3256.8" r="7.6"/><circle cx="1079.2" cy="3022.9" r="7.6"/><circle cx="1088.0" cy="3160.4" r="7.6"/><circle cx="1096.9" cy="3268.6" r="7.6"/><circle cx="1105.7" cy="3268.6" r="7.6"/><circle cx="1114.6" cy="3268.6" r="7.6"/><circle cx="1123.4" cy="3268.6" r="7.6"/><circle cx="1132.3" cy="3268.6" r="7.6"/><circle cx="1141.2" cy="3268.6" r="7.6"/><circle cx="1150.0" cy="3268.6" r="7.6"/><circle cx="1158.9" cy="3268.6" r="7.6"/><circle cx="1167.7" cy="3268.6" r="7.6"/><circle cx="1176.6" cy="3268.6" r="7.6"/><circle cx="1185.4" cy="3268.6" r="7.6"/><circle cx="1194.3" cy="3268.6" r="7.6"/><circle cx="1203.2" cy="3268.6" r="7.6"/><circle cx="1212.0" cy="3268.6" r="7.6"/><circle cx="1220.9" cy="3268.6" r="7.6"/><circle cx="1229.7" cy="3268.6" r="7.6"/><circle cx="1238.6" cy="2905.7" r="7.6"/><circle cx="1247.4" cy="3268.6" r="7.6"/><circle cx="1256.3" cy="3268.6" r="7.6"/><circle cx="1265.2" cy="3268.6" r="7.6"/><circle cx="1274.0" cy="3268.6" r="7.6"/><circle cx="1282.9" cy="3268.6" r="7.6"/><circle cx="1291.7" cy="3268.6" r="7.6"/><circle cx="1300.6" cy="3247.9" r="7.6"/><circle cx="1309.4" cy="3268.6" r="7.6"/><circle cx="1318.3" cy="2913.9" r="7.6"/><circle cx="1327.2" cy="3268.6" r="7.6"/><circle cx="1336.0" cy="3263.9" r="7.6"/><circle cx="1344.9" cy="3268.6" r="7.6"/><circle cx="1353.7" cy="3058.6" r="7.6"/><circle cx="1362.6" cy="3268.6" r="7.6"/><circle cx="1371.4" cy="3268.6" r="7.6"/><circle cx="1380.3" cy="3268.6" r="7.6"/><circle cx="1389.2" cy="3268.6" r="7.6"/><circle cx="1398.0" cy="3125.7" r="7.6"/><circle cx="1406.9" cy="3268.6" r="7.6"/><circle cx="1415.7" cy="3268.6" r="7.6"/><circle cx="1424.6" cy="3268.6" r="7.6"/><circle cx="1433.4" cy="3268.6" r="7.6"/><circle cx="1442.3" cy="3268.6" r="7.6"/><circle cx="1451.2" cy="2856.1" r="7.6"/><circle cx="1460.0" cy="3268.6" r="7.6"/><circle cx="1468.9" cy="2845.4" r="7.6"/><circle cx="1477.7" cy="3268.6" r="7.6"/><circle cx="1486.6" cy="3268.6" r="7.6"/><circle cx="1495.4" cy="3268.6" r="7.6"/><circle cx="1504.3" cy="3268.6" r="7.6"/><circle cx="1513.2" cy="3268.6" r="7.6"/><circle cx="1522.0" cy="3268.6" r="7.6"/><circle cx="1530.9" cy="3268.6" r="7.6"/><circle cx="1539.7" cy="3268.6" r="7.6"/><circle cx="1548.6" cy="3268.6" r="7.6"/><circle cx="1557.4" cy="3268.6" r="7.6"/><circle cx="1566.3" cy="3268.6" r="7.6"/><circle cx="1575.2" cy="3268.6" r="7.6"/><circle cx="1584.0" cy="3192.5" r="7.6"/><circle cx="1592.9" cy="3268.6" r="7.6"/><circle cx="1601.7" cy="3245.4" r="7.6"/><circle cx="1610.6" cy="3138.9" r="7.6"/><circle cx="1619.4" cy="3268.6" r="7.6"/><circle cx="1628.3" cy="3268.6" r="7.6"/><circle cx="1637.2" cy="3268.6" r="7.6"/><circle cx="1646.0" cy="3234.6" r="7.6"/><circle cx="1654.9" cy="3268.6" r="7.6"/><circle cx="1663.7" cy="3268.6" r="7.6"/><circle cx="1672.6" cy="3268.6" r="7.6"/><circle cx="1681.4" cy="2802.5" r="7.6"/><circle cx="1690.3" cy="3268.6" r="7.6"/><circle cx="1699.2" cy="3268.6" r="7.6"/><circle cx="1708.0" cy="3268.6" r="7.6"/><circle cx="1716.9" cy="3268.6" r="7.6"/><circle cx="1725.7" cy="3268.6" r="7.6"/><circle cx="1734.6" cy="2857.9" r="7.6"/><circle cx="1743.4" cy="3163.9" r="7.6"/><circle cx="1752.3" cy="3115.7" r="7.6"/><circle cx="1761.1" cy="3240.0" r="7.6"/><circle cx="1770.0" cy="3268.6" r="7.6"/><circle cx="1778.9" cy="3170.0" r="7.6"/><circle cx="1787.7" cy="2834.6" r="7.6"/><circle cx="1796.6" cy="2901.4" r="7.6"/><circle cx="1805.4" cy="3001.4" r="7.6"/><circle cx="1814.3" cy="3117.5" r="7.6"/><circle cx="1823.1" cy="3268.6" r="7.6"/><circle cx="1832.0" cy="2935.4" r="7.6"/><circle cx="1840.9" cy="3268.6" r="7.6"/><circle cx="1849.7" cy="3149.6" r="7.6"/><circle cx="1858.6" cy="2830.0" r="7.6"/><circle cx="1867.4" cy="2889.6" r="7.6"/><circle cx="1876.3" cy="3120.0" r="7.6"/><circle cx="1885.1" cy="3233.6" r="7.6"/><circle cx="1894.0" cy="3180.0" r="7.6"/><circle cx="1902.9" cy="3258.6" r="7.6"/><circle cx="1911.7" cy="3255.0" r="7.6"/><circle cx="1920.6" cy="3069.3" r="7.6"/><circle cx="1929.4" cy="3268.6" r="7.6"/><circle cx="1938.3" cy="3268.6" r="7.6"/><circle cx="1947.1" cy="3062.1" r="7.6"/><circle cx="1956.0" cy="3070.4" r="7.6"/></g>
<g fill="#004080" clip-path="url(#clipC)">
<rect x="365.4" y="2922.9" width="10.40" height="345.9"/>
<rect x="374.3" y="3201.4" width="10.40" height="67.4"/>
<rect x="383.1" y="3126.4" width="10.40" height="142.4"/>
<rect x="445.1" y="3263.9" width="10.40" height="4.9"/>
<rect x="516.0" y="2819.3" width="10.40" height="449.5"/>
<rect x="524.8" y="3242.5" width="10.40" height="26.3"/>
<rect x="533.7" y="2840.7" width="10.40" height="428.1"/>
<rect x="542.5" y="3235.4" width="10.40" height="33.4"/>
<rect x="551.4" y="3247.9" width="10.40" height="20.9"/>
<rect x="560.3" y="3197.9" width="10.40" height="70.9"/>
<rect x="569.1" y="3221.1" width="10.40" height="47.7"/>
<rect x="613.4" y="3253.2" width="10.40" height="15.6"/>
<rect x="693.1" y="3221.1" width="10.40" height="47.7"/>
<rect x="702.0" y="3263.9" width="10.40" height="4.9"/>
<rect x="755.1" y="3244.3" width="10.40" height="24.5"/>
<rect x="764.0" y="3228.2" width="10.40" height="40.6"/>
<rect x="772.8" y="3247.9" width="10.40" height="20.9"/>
<rect x="781.7" y="3175.7" width="10.40" height="93.1"/>
<rect x="790.5" y="3188.9" width="10.40" height="79.9"/>
<rect x="799.4" y="3260.4" width="10.40" height="8.4"/>
<rect x="817.1" y="2949.6" width="10.40" height="319.2"/>
<rect x="826.0" y="3244.3" width="10.40" height="24.5"/>
<rect x="834.8" y="3251.4" width="10.40" height="17.4"/>
<rect x="905.7" y="3262.1" width="10.40" height="6.7"/>
<rect x="941.1" y="3243.2" width="10.40" height="25.6"/>
<rect x="958.8" y="3263.9" width="10.40" height="4.9"/>
<rect x="976.5" y="3140.7" width="10.40" height="128.1"/>
<rect x="1012.0" y="3178.2" width="10.40" height="90.6"/>
<rect x="1038.5" y="3051.4" width="10.40" height="217.4"/>
<rect x="1074.0" y="3256.8" width="10.40" height="12.0"/>
<rect x="1082.8" y="3260.4" width="10.40" height="8.4"/>
<rect x="1242.2" y="3244.3" width="10.40" height="24.5"/>
<rect x="1322.0" y="3247.9" width="10.40" height="20.9"/>
<rect x="1357.4" y="3262.1" width="10.40" height="6.7"/>
<rect x="1401.7" y="3045.0" width="10.40" height="223.8"/>
<rect x="1454.8" y="3246.1" width="10.40" height="22.7"/>
<rect x="1472.5" y="3083.6" width="10.40" height="185.2"/>
<rect x="1614.2" y="3115.7" width="10.40" height="153.1"/>
<rect x="1685.1" y="2844.3" width="10.40" height="424.5"/>
<rect x="1738.2" y="3147.9" width="10.40" height="120.9"/>
<rect x="1747.1" y="3247.9" width="10.40" height="20.9"/>
<rect x="1791.4" y="3213.9" width="10.40" height="54.9"/>
<rect x="1924.2" y="3235.4" width="10.40" height="33.4"/>
<rect x="1933.1" y="3262.9" width="10.40" height="5.9"/>
</g>
<polyline points="370.6,3160.4 379.5,2775.7 388.3,2569.3 397.2,2654.3 406.0,2718.6 414.9,2689.6 423.7,2668.6 432.6,2654.3 441.5,2899.6 450.3,2956.8 459.2,2813.9 468.0,2732.9 476.9,2655.0 485.7,2985.4 494.6,2705.0 503.5,2722.1 512.3,2693.6 521.2,2488.9 530.0,2932.1 538.9,2587.1 547.7,2605.0 556.6,2581.8 565.5,2526.4 574.3,2562.1 583.2,2729.3 592.0,2687.9 600.9,2742.5 609.7,2780.7 618.6,2733.6 627.5,2722.1 636.3,2802.1 645.2,2788.9 654.0,2726.4 662.9,2748.9 671.7,2767.5 680.6,2844.3 689.5,2684.6 698.3,2705.7 707.2,2618.6 716.0,2773.9 724.9,2657.5 733.7,2810.4 742.6,2736.4 751.5,2765.7 760.3,2660.4 769.2,2595.0 778.0,2610.4 786.9,2559.3 795.7,2538.9 804.6,2553.2 813.5,2642.5 822.3,2614.6 831.2,2567.5 840.0,2590.0 848.9,2688.2 857.7,2654.3 866.6,2681.1 875.4,2682.9 884.3,2647.9 893.2,2718.6 902.0,2704.3 910.9,2611.4 919.7,2706.1 928.6,2747.1 937.4,2741.8 946.3,2715.0 955.2,2740.7 964.0,2658.6 972.9,2701.4 981.7,2597.9 990.6,2653.9 999.4,2670.4 1008.3,2677.1 1017.2,2535.4 1026.0,2636.4 1034.9,2662.9 1043.7,2580.0 1052.6,2593.2 1061.4,2698.6 1070.3,2817.5 1079.2,2665.7 1088.0,2672.9 1096.9,2696.1 1105.7,2793.6 1114.6,2733.6 1123.4,2732.9 1132.3,2786.1 1141.2,2774.6 1150.0,2820.0 1158.9,2805.7 1167.7,2844.3 1176.6,2865.0 1185.4,2833.6 1194.3,2887.9 1203.2,2846.1 1212.0,2853.2 1220.9,2842.5 1229.7,2863.9 1238.6,2637.1 1247.4,2749.6 1256.3,2876.4 1265.2,2776.4 1274.0,2741.8 1282.9,2828.2 1291.7,2836.4 1300.6,2732.9 1309.4,2708.6 1318.3,2655.7 1327.2,2838.9 1336.0,2734.3 1344.9,2760.4 1353.7,2719.3 1362.6,2820.0 1371.4,2859.3 1380.3,2930.7 1389.2,2750.4 1398.0,2614.6 1406.9,2734.6 1415.7,2765.0 1424.6,2756.8 1433.4,2788.2 1442.3,2723.6 1451.2,2597.1 1460.0,2735.4 1468.9,2590.7 1477.7,2780.0 1486.6,2856.1 1495.4,2812.1 1504.3,2707.9 1513.2,2711.4 1522.0,2737.1 1530.9,2827.5 1539.7,2796.1 1548.6,2804.3 1557.4,2862.1 1566.3,2876.4 1575.2,2855.0 1584.0,2733.6 1592.9,2792.5 1601.7,2694.3 1610.6,2640.7 1619.4,2744.3 1628.3,2751.4 1637.2,2731.1 1646.0,2724.6 1654.9,2729.3 1663.7,2749.6 1672.6,2733.6 1681.4,2547.9 1690.3,2730.0 1699.2,2761.4 1708.0,2799.6 1716.9,2769.3 1725.7,2761.4 1734.6,2614.6 1743.4,2689.6 1752.3,2708.6 1761.1,2663.2 1770.0,2680.0 1778.9,2689.6 1787.7,2596.1 1796.6,2603.2 1805.4,2570.0 1814.3,2625.7 1823.1,2706.8 1832.0,2604.3 1840.9,2681.8 1849.7,2676.4 1858.6,2569.3 1867.4,2596.8 1876.3,2615.7 1885.1,2623.9 1894.0,2653.9 1902.9,2724.6 1911.7,2647.9 1920.6,2662.9 1929.4,2741.4 1938.3,2729.3 1947.1,2661.4 1956.0,2654.3" fill="none" stroke="#0a64c4" stroke-width="2.7" stroke-linejoin="round"/>
<g fill="#0066cc"><circle cx="370.6" cy="3160.4" r="7.6"/><circle cx="379.5" cy="2775.7" r="7.6"/><circle cx="388.3" cy="2569.3" r="7.6"/><circle cx="397.2" cy="2654.3" r="7.6"/><circle cx="406.0" cy="2718.6" r="7.6"/><circle cx="414.9" cy="2689.6" r="7.6"/><circle cx="423.7" cy="2668.6" r="7.6"/><circle cx="432.6" cy="2654.3" r="7.6"/><circle cx="441.5" cy="2899.6" r="7.6"/><circle cx="450.3" cy="2956.8" r="7.6"/><circle cx="459.2" cy="2813.9" r="7.6"/><circle cx="468.0" cy="2732.9" r="7.6"/><circle cx="476.9" cy="2655.0" r="7.6"/><circle cx="485.7" cy="2985.4" r="7.6"/><circle cx="494.6" cy="2705.0" r="7.6"/><circle cx="503.5" cy="2722.1" r="7.6"/><circle cx="512.3" cy="2693.6" r="7.6"/><circle cx="521.2" cy="2488.9" r="7.6"/><circle cx="530.0" cy="2932.1" r="7.6"/><circle cx="538.9" cy="2587.1" r="7.6"/><circle cx="547.7" cy="2605.0" r="7.6"/><circle cx="556.6" cy="2581.8" r="7.6"/><circle cx="565.5" cy="2526.4" r="7.6"/><circle cx="574.3" cy="2562.1" r="7.6"/><circle cx="583.2" cy="2729.3" r="7.6"/><circle cx="592.0" cy="2687.9" r="7.6"/><circle cx="600.9" cy="2742.5" r="7.6"/><circle cx="609.7" cy="2780.7" r="7.6"/><circle cx="618.6" cy="2733.6" r="7.6"/><circle cx="627.5" cy="2722.1" r="7.6"/><circle cx="636.3" cy="2802.1" r="7.6"/><circle cx="645.2" cy="2788.9" r="7.6"/><circle cx="654.0" cy="2726.4" r="7.6"/><circle cx="662.9" cy="2748.9" r="7.6"/><circle cx="671.7" cy="2767.5" r="7.6"/><circle cx="680.6" cy="2844.3" r="7.6"/><circle cx="689.5" cy="2684.6" r="7.6"/><circle cx="698.3" cy="2705.7" r="7.6"/><circle cx="707.2" cy="2618.6" r="7.6"/><circle cx="716.0" cy="2773.9" r="7.6"/><circle cx="724.9" cy="2657.5" r="7.6"/><circle cx="733.7" cy="2810.4" r="7.6"/><circle cx="742.6" cy="2736.4" r="7.6"/><circle cx="751.5" cy="2765.7" r="7.6"/><circle cx="760.3" cy="2660.4" r="7.6"/><circle cx="769.2" cy="2595.0" r="7.6"/><circle cx="778.0" cy="2610.4" r="7.6"/><circle cx="786.9" cy="2559.3" r="7.6"/><circle cx="795.7" cy="2538.9" r="7.6"/><circle cx="804.6" cy="2553.2" r="7.6"/><circle cx="813.5" cy="2642.5" r="7.6"/><circle cx="822.3" cy="2614.6" r="7.6"/><circle cx="831.2" cy="2567.5" r="7.6"/><circle cx="840.0" cy="2590.0" r="7.6"/><circle cx="848.9" cy="2688.2" r="7.6"/><circle cx="857.7" cy="2654.3" r="7.6"/><circle cx="866.6" cy="2681.1" r="7.6"/><circle cx="875.4" cy="2682.9" r="7.6"/><circle cx="884.3" cy="2647.9" r="7.6"/><circle cx="893.2" cy="2718.6" r="7.6"/><circle cx="902.0" cy="2704.3" r="7.6"/><circle cx="910.9" cy="2611.4" r="7.6"/><circle cx="919.7" cy="2706.1" r="7.6"/><circle cx="928.6" cy="2747.1" r="7.6"/><circle cx="937.4" cy="2741.8" r="7.6"/><circle cx="946.3" cy="2715.0" r="7.6"/><circle cx="955.2" cy="2740.7" r="7.6"/><circle cx="964.0" cy="2658.6" r="7.6"/><circle cx="972.9" cy="2701.4" r="7.6"/><circle cx="981.7" cy="2597.9" r="7.6"/><circle cx="990.6" cy="2653.9" r="7.6"/><circle cx="999.4" cy="2670.4" r="7.6"/><circle cx="1008.3" cy="2677.1" r="7.6"/><circle cx="1017.2" cy="2535.4" r="7.6"/><circle cx="1026.0" cy="2636.4" r="7.6"/><circle cx="1034.9" cy="2662.9" r="7.6"/><circle cx="1043.7" cy="2580.0" r="7.6"/><circle cx="1052.6" cy="2593.2" r="7.6"/><circle cx="1061.4" cy="2698.6" r="7.6"/><circle cx="1070.3" cy="2817.5" r="7.6"/><circle cx="1079.2" cy="2665.7" r="7.6"/><circle cx="1088.0" cy="2672.9" r="7.6"/><circle cx="1096.9" cy="2696.1" r="7.6"/><circle cx="1105.7" cy="2793.6" r="7.6"/><circle cx="1114.6" cy="2733.6" r="7.6"/><circle cx="1123.4" cy="2732.9" r="7.6"/><circle cx="1132.3" cy="2786.1" r="7.6"/><circle cx="1141.2" cy="2774.6" r="7.6"/><circle cx="1150.0" cy="2820.0" r="7.6"/><circle cx="1158.9" cy="2805.7" r="7.6"/><circle cx="1167.7" cy="2844.3" r="7.6"/><circle cx="1176.6" cy="2865.0" r="7.6"/><circle cx="1185.4" cy="2833.6" r="7.6"/><circle cx="1194.3" cy="2887.9" r="7.6"/><circle cx="1203.2" cy="2846.1" r="7.6"/><circle cx="1212.0" cy="2853.2" r="7.6"/><circle cx="1220.9" cy="2842.5" r="7.6"/><circle cx="1229.7" cy="2863.9" r="7.6"/><circle cx="1238.6" cy="2637.1" r="7.6"/><circle cx="1247.4" cy="2749.6" r="7.6"/><circle cx="1256.3" cy="2876.4" r="7.6"/><circle cx="1265.2" cy="2776.4" r="7.6"/><circle cx="1274.0" cy="2741.8" r="7.6"/><circle cx="1282.9" cy="2828.2" r="7.6"/><circle cx="1291.7" cy="2836.4" r="7.6"/><circle cx="1300.6" cy="2732.9" r="7.6"/><circle cx="1309.4" cy="2708.6" r="7.6"/><circle cx="1318.3" cy="2655.7" r="7.6"/><circle cx="1327.2" cy="2838.9" r="7.6"/><circle cx="1336.0" cy="2734.3" r="7.6"/><circle cx="1344.9" cy="2760.4" r="7.6"/><circle cx="1353.7" cy="2719.3" r="7.6"/><circle cx="1362.6" cy="2820.0" r="7.6"/><circle cx="1371.4" cy="2859.3" r="7.6"/><circle cx="1380.3" cy="2930.7" r="7.6"/><circle cx="1389.2" cy="2750.4" r="7.6"/><circle cx="1398.0" cy="2614.6" r="7.6"/><circle cx="1406.9" cy="2734.6" r="7.6"/><circle cx="1415.7" cy="2765.0" r="7.6"/><circle cx="1424.6" cy="2756.8" r="7.6"/><circle cx="1433.4" cy="2788.2" r="7.6"/><circle cx="1442.3" cy="2723.6" r="7.6"/><circle cx="1451.2" cy="2597.1" r="7.6"/><circle cx="1460.0" cy="2735.4" r="7.6"/><circle cx="1468.9" cy="2590.7" r="7.6"/><circle cx="1477.7" cy="2780.0" r="7.6"/><circle cx="1486.6" cy="2856.1" r="7.6"/><circle cx="1495.4" cy="2812.1" r="7.6"/><circle cx="1504.3" cy="2707.9" r="7.6"/><circle cx="1513.2" cy="2711.4" r="7.6"/><circle cx="1522.0" cy="2737.1" r="7.6"/><circle cx="1530.9" cy="2827.5" r="7.6"/><circle cx="1539.7" cy="2796.1" r="7.6"/><circle cx="1548.6" cy="2804.3" r="7.6"/><circle cx="1557.4" cy="2862.1" r="7.6"/><circle cx="1566.3" cy="2876.4" r="7.6"/><circle cx="1575.2" cy="2855.0" r="7.6"/><circle cx="1584.0" cy="2733.6" r="7.6"/><circle cx="1592.9" cy="2792.5" r="7.6"/><circle cx="1601.7" cy="2694.3" r="7.6"/><circle cx="1610.6" cy="2640.7" r="7.6"/><circle cx="1619.4" cy="2744.3" r="7.6"/><circle cx="1628.3" cy="2751.4" r="7.6"/><circle cx="1637.2" cy="2731.1" r="7.6"/><circle cx="1646.0" cy="2724.6" r="7.6"/><circle cx="1654.9" cy="2729.3" r="7.6"/><circle cx="1663.7" cy="2749.6" r="7.6"/><circle cx="1672.6" cy="2733.6" r="7.6"/><circle cx="1681.4" cy="2547.9" r="7.6"/><circle cx="1690.3" cy="2730.0" r="7.6"/><circle cx="1699.2" cy="2761.4" r="7.6"/><circle cx="1708.0" cy="2799.6" r="7.6"/><circle cx="1716.9" cy="2769.3" r="7.6"/><circle cx="1725.7" cy="2761.4" r="7.6"/><circle cx="1734.6" cy="2614.6" r="7.6"/><circle cx="1743.4" cy="2689.6" r="7.6"/><circle cx="1752.3" cy="2708.6" r="7.6"/><circle cx="1761.1" cy="2663.2" r="7.6"/><circle cx="1770.0" cy="2680.0" r="7.6"/><circle cx="1778.9" cy="2689.6" r="7.6"/><circle cx="1787.7" cy="2596.1" r="7.6"/><circle cx="1796.6" cy="2603.2" r="7.6"/><circle cx="1805.4" cy="2570.0" r="7.6"/><circle cx="1814.3" cy="2625.7" r="7.6"/><circle cx="1823.1" cy="2706.8" r="7.6"/><circle cx="1832.0" cy="2604.3" r="7.6"/><circle cx="1840.9" cy="2681.8" r="7.6"/><circle cx="1849.7" cy="2676.4" r="7.6"/><circle cx="1858.6" cy="2569.3" r="7.6"/><circle cx="1867.4" cy="2596.8" r="7.6"/><circle cx="1876.3" cy="2615.7" r="7.6"/><circle cx="1885.1" cy="2623.9" r="7.6"/><circle cx="1894.0" cy="2653.9" r="7.6"/><circle cx="1902.9" cy="2724.6" r="7.6"/><circle cx="1911.7" cy="2647.9" r="7.6"/><circle cx="1920.6" cy="2662.9" r="7.6"/><circle cx="1929.4" cy="2741.4" r="7.6"/><circle cx="1938.3" cy="2729.3" r="7.6"/><circle cx="1947.1" cy="2661.4" r="7.6"/><circle cx="1956.0" cy="2654.3" r="7.6"/></g>
<rect x="345" y="2444.0" width="1655" height="2.2" fill="#9a9a9a"/>
<rect x="345" y="2440.6" width="1655" height="3.8" fill="#000"/>
<rect x="345" y="3267.0" width="1655" height="3.6" fill="#000"/>
<rect x="369.3" y="2443.0" width="3.0" height="825.8" fill="#000"/>
<rect x="1973.3000000000002" y="2443.0" width="3.2" height="825.8" fill="#000"/>
<text transform="translate(314,2462.8) scale(0.965,1)" font-size="64" text-anchor="end">35</text>
<rect x="345" y="2559.6" width="26" height="2.7" fill="#000"/>
<text transform="translate(314,2580.8) scale(0.965,1)" font-size="64" text-anchor="end">30</text>
<rect x="345" y="2677.6" width="26" height="2.7" fill="#000"/>
<text transform="translate(314,2698.7) scale(0.965,1)" font-size="64" text-anchor="end">25</text>
<rect x="345" y="2795.6" width="26" height="2.7" fill="#000"/>
<text transform="translate(314,2816.7) scale(0.965,1)" font-size="64" text-anchor="end">20</text>
<rect x="345" y="2913.5" width="26" height="2.7" fill="#000"/>
<text transform="translate(314,2934.7) scale(0.965,1)" font-size="64" text-anchor="end">15</text>
<rect x="345" y="3031.5" width="26" height="2.7" fill="#000"/>
<text transform="translate(314,3052.7) scale(0.965,1)" font-size="64" text-anchor="end">10</text>
<rect x="345" y="3149.5" width="26" height="2.7" fill="#000"/>
<text transform="translate(314,3170.6) scale(0.965,1)" font-size="64" text-anchor="end">5</text>
<text transform="translate(314,3288.6) scale(0.965,1)" font-size="64" text-anchor="end">0</text>
<text transform="translate(2030.5,2462.8) scale(0.99,1)" font-size="64">100</text>
<rect x="1974.9" y="2606.7" width="24" height="3" fill="#000"/>
<text transform="translate(2028,2628.0) scale(0.99,1)" font-size="64">80</text>
<rect x="1974.9" y="2771.8" width="24" height="3" fill="#000"/>
<text transform="translate(2028,2793.1) scale(0.99,1)" font-size="64">60</text>
<rect x="1974.9" y="2937.0" width="24" height="3" fill="#000"/>
<text transform="translate(2028,2958.3) scale(0.99,1)" font-size="64">40</text>
<rect x="1974.9" y="3102.1" width="24" height="3" fill="#000"/>
<text transform="translate(2028,3123.4) scale(0.99,1)" font-size="64">20</text>
<text transform="translate(2028,3288.6) scale(0.99,1)" font-size="64">0</text>
<rect x="448.8" y="3268.8" width="3" height="25" fill="#000"/>
<text x="433.8" y="3380" font-size="62" text-anchor="middle">1/4</text>
<rect x="714.2" y="3268.8" width="3" height="25" fill="#000"/>
<text x="699.2" y="3380" font-size="62" text-anchor="middle">1/5</text>
<rect x="988.5" y="3268.8" width="3" height="25" fill="#000"/>
<text x="973.5" y="3380" font-size="62" text-anchor="middle">1/6</text>
<rect x="1253.1" y="3268.8" width="3" height="25" fill="#000"/>
<text x="1238.1" y="3380" font-size="62" text-anchor="middle">1/7</text>
<rect x="1528.9" y="3268.8" width="3" height="25" fill="#000"/>
<text x="1513.9" y="3380" font-size="62" text-anchor="middle">1/8</text>
<rect x="1804.0" y="3268.8" width="3" height="25" fill="#000"/>
<text x="1789.0" y="3380" font-size="62" text-anchor="middle">1/9</text>
<text transform="translate(394.3,2576.2) scale(0.945,1)" font-size="120" font-weight="bold">C</text>
<text transform="translate(84,3212) rotate(-90)" font-size="65.2" font-weight="bold">Temperature (ºC)</text>
<text transform="translate(161.7,3214) rotate(-90)" font-size="64.6" font-weight="bold">Leaf wetness duration (h)</text>
<text transform="translate(2199.5,2854.8) rotate(-90)" font-size="64.2" font-weight="bold" text-anchor="middle">Relative Humidity (%)</text>
<text transform="translate(2277.3,2854.5) rotate(-90)" font-size="64" font-weight="bold" text-anchor="middle">Rain (mm)</text>
<text x="1102.5" y="3512" font-size="65" font-weight="bold">Date</text>
</g>
</svg>
</body></html>
